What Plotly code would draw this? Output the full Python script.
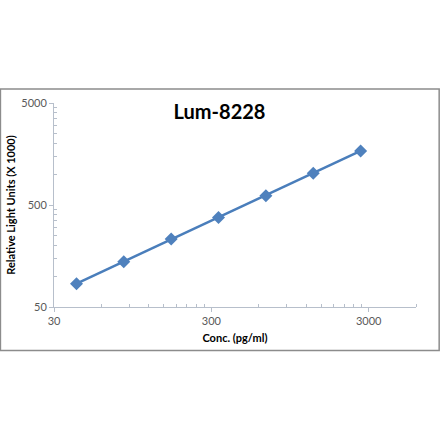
import plotly.graph_objects as go

# standard curve, serial 2-fold dilutions
conc = [41.7, 83.3, 166.7, 333.3, 666.7, 1333.3, 2666.7]
rlu = [84.6, 139, 232, 377, 617, 1022, 1693]

x_ticks = [30, 300, 3000]
y_ticks = [50, 500, 5000]
x_minor = [60, 90, 120, 150, 180, 210, 240, 270,
           600, 900, 1200, 1500, 1800, 2100, 2400, 2700, 6000]
y_minor = [100, 150, 200, 250, 300, 350, 400, 450,
           1000, 1500, 2000, 2500, 3000, 3500, 4000, 4500]

axis_col = '#b7bfcb'
label_col = '#595959'
font_name = 'Lato'

trace = go.Scatter(
    x=conc,
    y=rlu,
    mode='lines+markers',
    line=dict(color='#4a7ebb', width=2.5),
    marker=dict(symbol='diamond', size=10, color='#4f81bd'),
    showlegend=False
)

layout = go.Layout(
    width=440,
    height=441,
    margin=dict(l=54, r=24, t=103, b=134),
    paper_bgcolor='white',
    plot_bgcolor='white',
    font=dict(family=font_name, color=label_col, size=11),
    title=dict(
        text='<b>Lum-8228</b>',
        x=0.499, xref='container', xanchor='center',
        y=1 - 111.7 / 441, yref='container', yanchor='middle',
        font=dict(family=font_name, size=20, color='black')
    ),
    xaxis=dict(
        type='log',
        range=[1.4771, 3.778],
        tickvals=x_ticks,
        ticktext=[str(v) for v in x_ticks],
        ticks='outside', ticklen=4, tickcolor=axis_col,
        showline=True, linecolor=axis_col, linewidth=1,
        showgrid=False, zeroline=False,
        minor=dict(tickvals=x_minor, ticks='inside', ticklen=3,
                   tickcolor=axis_col, showgrid=False),
        tickfont=dict(size=11, color=label_col),
        title=dict(text='<b>Conc. (pg/ml)</b>', standoff=8,
                   font=dict(size=11, color='black'))
    ),
    yaxis=dict(
        type='log',
        range=[1.699, 3.699],
        tickvals=y_ticks,
        ticktext=[str(v) for v in y_ticks],
        ticks='outside', ticklen=4, tickcolor=axis_col,
        showline=True, linecolor=axis_col, linewidth=1,
        showgrid=False, zeroline=False,
        minor=dict(tickvals=y_minor, ticks='inside', ticklen=3,
                   tickcolor=axis_col, showgrid=False),
        tickfont=dict(size=11, color=label_col),
        title=dict(text='<b>Relative Light Units (X 1000)</b>', standoff=3,
                   font=dict(size=11, color='black'))
    ),
    shapes=[dict(
        type='rect', xref='paper', yref='paper',
        x0=-0.148, x1=1.064, y0=-0.213, y1=1.069,
        line=dict(color='#8c8c8c', width=1.5), layer='below'
    )]
)

fig = go.Figure(data=[trace], layout=layout)
# drop the browser's default page margin so the figure sits at the corner
fig.write_html('out.html', config={'displayModeBar': False},
               post_script="document.body.style.margin='0';")
